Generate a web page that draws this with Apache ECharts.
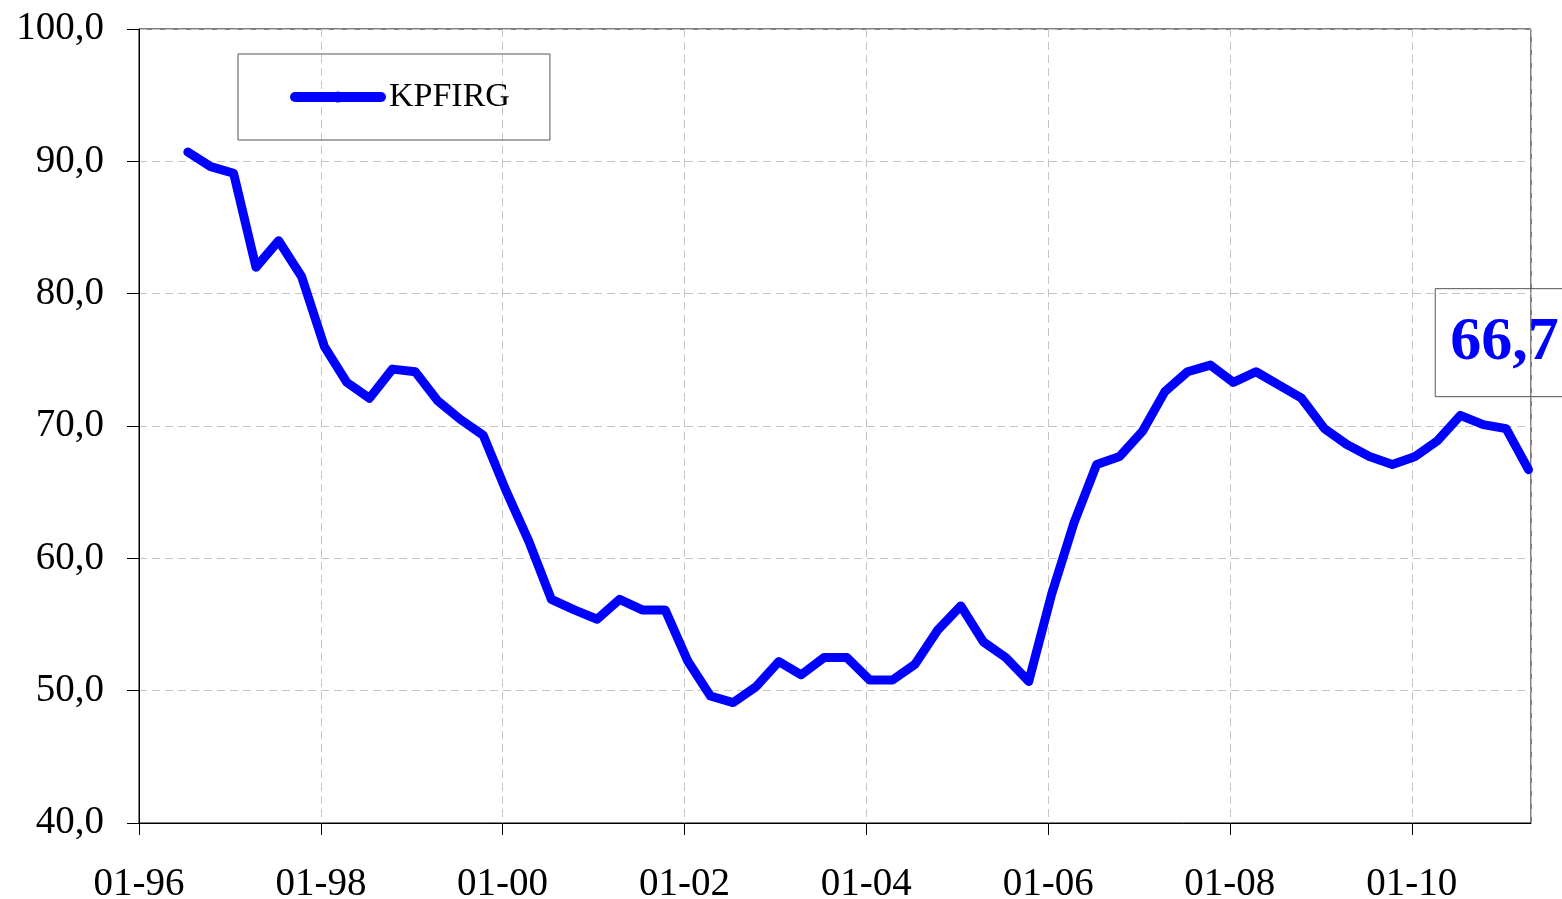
<!DOCTYPE html>
<html>
<head>
<meta charset="utf-8">
<script src="https://cdn.jsdelivr.net/npm/echarts@6/dist/echarts.min.js"></script>
<style>
html,body{margin:0;padding:0;background:#fff;}
#chart{width:1562px;height:899px;}
</style>
</head>
<body>
<div id="chart"></div>
<script>
// Quarterly observation dates
var dates = [
  '1996-07-15','1996-10-15',
  '1997-01-15','1997-04-15','1997-07-15','1997-10-15',
  '1998-01-15','1998-04-15','1998-07-15','1998-10-15',
  '1999-01-15','1999-04-15','1999-07-15','1999-10-15',
  '2000-01-15','2000-04-15','2000-07-15','2000-10-15',
  '2001-01-15','2001-04-15','2001-07-15','2001-10-15',
  '2002-01-15','2002-04-15','2002-07-15','2002-10-15',
  '2003-01-15','2003-04-15','2003-07-15','2003-10-15',
  '2004-01-15','2004-04-15','2004-07-15','2004-10-15',
  '2005-01-15','2005-04-15','2005-07-15','2005-10-15',
  '2006-01-15','2006-04-15','2006-07-15','2006-10-15',
  '2007-01-15','2007-04-15','2007-07-15','2007-10-15',
  '2008-01-15','2008-04-15','2008-07-15','2008-10-15',
  '2009-01-15','2009-04-15','2009-07-15','2009-10-15',
  '2010-01-15','2010-04-15','2010-07-15','2010-10-15',
  '2011-01-15','2011-04-15'
];
// KPFIRG values
var kpfirg = [
  90.7, 89.6,
  89.1, 82.0, 84.0, 81.3,
  76.0, 73.3, 72.1, 74.3,
  74.1, 71.9, 70.5, 69.3,
  65.1, 61.3, 56.9, 56.1,
  55.4, 56.9, 56.1, 56.1,
  52.2, 49.6, 49.1, 50.3,
  52.2, 51.2, 52.5, 52.5,
  50.8, 50.8, 52.0, 54.6,
  56.4, 53.7, 52.5, 50.7,
  57.3, 62.7, 67.1, 67.7,
  69.6, 72.6, 74.1, 74.6,
  73.3, 74.1, 73.1, 72.1,
  69.8, 68.6, 67.7, 67.1,
  67.7, 68.9, 70.8, 70.1,
  69.8, 66.7
];
var seriesName = 'KPFIRG';
var xMin = '1996-01-01';
var xMax = '2011-04-25';
var yTicks = [40, 50, 60, 70, 80, 90, 100];

var FONT = 'Liberation Serif';
var pairs = dates.map(function (d, i) { return [d, kpfirg[i]]; });
var lastIdx = kpfirg.length - 1;
function fmtNum(v) { return v.toFixed(1).replace('.', ','); }

var chart = echarts.init(document.getElementById('chart'), null, {renderer: 'canvas'});
chart.setOption({
  backgroundColor: '#ffffff',
  animation: false,
  grid: {
    left: 139, top: 29, right: 31, bottom: 76,
    containLabel: false, outerBoundsMode: 'none',
    show: true, borderColor: '#000', borderWidth: 1, backgroundColor: 'transparent'
  },
  legend: {
    left: 238, top: 54,
    padding: [26, 40, 26, 52],
    borderColor: '#555', borderWidth: 1,
    itemWidth: 86, itemHeight: 14,
    data: [seriesName],
    lineStyle: {cap: 'round', width: 10},
    textStyle: {fontFamily: FONT, fontSize: 34, color: '#000', padding: [0, 0, 0, 3]}
  },
  xAxis: {
    type: 'time',
    min: xMin, max: xMax,
    minInterval: 2 * 365.25 * 86400000,
    maxInterval: 2 * 365.25 * 86400000,
    axisLine: {show: true, lineStyle: {color: '#000', width: 1}},
    axisTick: {show: true, length: 12, lineStyle: {color: '#000'}},
    minorTick: {show: false},
    axisLabel: {
      showMinLabel: true, showMaxLabel: false,
      margin: 42, fontFamily: FONT, fontSize: 39, color: '#000',
      formatter: function (v) {
        var d = new Date(v);
        var m = d.getMonth() + 1;
        return (m < 10 ? '0' + m : '' + m) + '-' + String(d.getFullYear()).slice(2);
      }
    },
    splitLine: {show: true, lineStyle: {color: '#c4c4c4', type: [8, 5], width: 1}}
  },
  yAxis: {
    type: 'value',
    min: yTicks[0], max: yTicks[yTicks.length - 1], interval: 10,
    axisLine: {show: true, lineStyle: {color: '#000', width: 1}},
    axisTick: {show: true, length: 12, inside: false, lineStyle: {color: '#000'}},
    axisLabel: {
      margin: 35, fontFamily: FONT, fontSize: 39, color: '#000',
      formatter: function (v) { return fmtNum(v); }
    },
    splitLine: {show: true, lineStyle: {color: '#c4c4c4', type: [8, 5], width: 1}}
  },
  series: [{
    name: seriesName,
    type: 'line',
    data: pairs,
    showSymbol: false,
    symbol: 'none',
    lineStyle: {color: '#0000ff', width: 9, cap: 'round', join: 'round'},
    itemStyle: {color: '#0000ff'},
    markPoint: {
      silent: true,
      symbol: 'rect', symbolSize: 0,
      data: [{
        coord: [dates[lastIdx], kpfirg[lastIdx]],
        label: {
          show: true,
          position: 'top',
          distance: 73,
          offset: [-24, 0],
          formatter: function () { return fmtNum(kpfirg[lastIdx]); },
          fontFamily: FONT, fontWeight: 'bold', fontSize: 62, color: '#0000ff',
          borderColor: '#555', borderWidth: 1,
          padding: [23, 15, 23, 15],
          lineHeight: 62
        }
      }]
    }
  }]
});
</script>
</body>
</html>
